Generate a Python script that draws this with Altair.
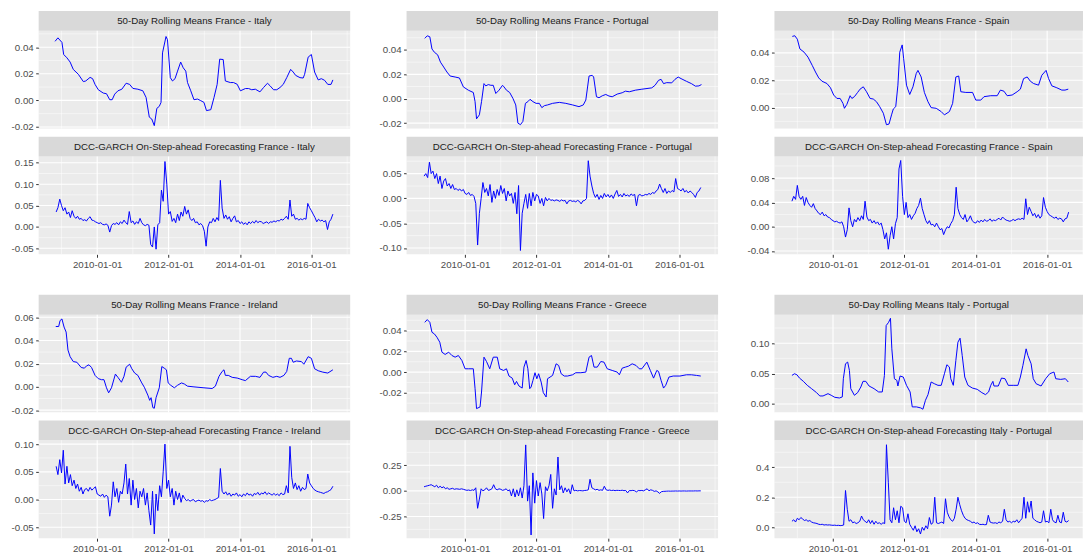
import altair as alt
import pandas as pd

# ------------------------------------------------------------------ data
# 50-day rolling means: (decimal year, value)
fr_it_roll = [(2008.82, 0.0444), (2008.90, 0.047), (2009.01, 0.0436), (2009.06, 0.0345), (2009.15, 0.032),
              (2009.24, 0.0288), (2009.33, 0.0233), (2009.47, 0.0196), (2009.61, 0.0141), (2009.68, 0.0146),
              (2009.80, 0.0173), (2009.87, 0.0163), (2009.94, 0.012), (2010.03, 0.008), (2010.17, 0.0055),
              (2010.26, 0.005), (2010.35, 0.0005), (2010.42, 0.0005), (2010.49, 0.0047), (2010.58, 0.0072),
              (2010.69, 0.0084), (2010.81, 0.0129), (2010.91, 0.012), (2011.00, 0.009), (2011.14, 0.0084),
              (2011.28, 0.0072), (2011.37, 0.0022), (2011.46, -0.0126), (2011.53, -0.014), (2011.60, -0.019),
              (2011.67, -0.006), (2011.74, -0.0045), (2011.79, -0.0015), (2011.83, 0.0357), (2011.93, 0.048),
              (2011.97, 0.0456), (2012.05, 0.0171), (2012.11, 0.0146), (2012.18, 0.0163), (2012.25, 0.022),
              (2012.34, 0.0288), (2012.41, 0.0245), (2012.48, 0.022), (2012.53, 0.0134), (2012.62, 0.0072),
              (2012.71, 0.0005), (2012.81, 0.001), (2012.90, -0.0002), (2012.99, -0.0015), (2013.06, -0.0077),
              (2013.18, -0.007), (2013.27, 0.0022), (2013.36, 0.012), (2013.43, 0.031), (2013.53, 0.0307),
              (2013.59, 0.0146), (2013.73, 0.0134), (2013.82, 0.0134), (2013.92, 0.0121), (2014.01, 0.0072),
              (2014.15, 0.0089), (2014.24, 0.0089), (2014.33, 0.008), (2014.43, 0.0084), (2014.56, 0.0064),
              (2014.66, 0.0097), (2014.77, 0.0129), (2014.84, 0.011), (2014.94, 0.008), (2015.03, 0.008),
              (2015.12, 0.0097), (2015.21, 0.012), (2015.31, 0.0171), (2015.42, 0.0233), (2015.49, 0.0213),
              (2015.56, 0.0188), (2015.68, 0.0171), (2015.77, 0.0168), (2015.81, 0.0196), (2015.91, 0.0325),
              (2016.00, 0.0345), (2016.09, 0.0213), (2016.19, 0.0154), (2016.28, 0.0163), (2016.37, 0.0151),
              (2016.46, 0.012), (2016.55, 0.012), (2016.60, 0.0154)]

fr_pt_roll = [(2008.87, 0.0495), (2008.94, 0.0516), (2009.01, 0.0508), (2009.07, 0.0408), (2009.14, 0.0381),
              (2009.23, 0.036), (2009.31, 0.030), (2009.40, 0.026), (2009.49, 0.0219), (2009.58, 0.0186),
              (2009.72, 0.0178), (2009.84, 0.017), (2009.95, 0.0097), (2010.09, 0.007), (2010.23, 0.0051),
              (2010.28, -0.0024), (2010.32, -0.0165), (2010.40, -0.0132), (2010.46, -0.0024), (2010.53, 0.0124),
              (2010.58, 0.0105), (2010.65, 0.0116), (2010.72, 0.011), (2010.79, 0.011), (2010.86, 0.0043),
              (2010.95, 0.007), (2011.05, 0.011), (2011.09, 0.0097), (2011.16, 0.007), (2011.25, 0.0051),
              (2011.34, 0.0003), (2011.42, -0.0051), (2011.48, -0.02), (2011.55, -0.0213), (2011.62, -0.0186),
              (2011.69, -0.0038), (2011.76, -0.0024), (2011.82, -0.0005), (2011.90, -0.0024), (2011.99, -0.0038),
              (2012.08, -0.0038), (2012.15, -0.0073), (2012.22, -0.0057), (2012.31, -0.0051), (2012.45, -0.0038),
              (2012.64, -0.003), (2012.82, -0.0038), (2013.01, -0.0051), (2013.19, -0.0065), (2013.31, -0.0051),
              (2013.38, -0.0011), (2013.47, 0.0186), (2013.56, 0.0192), (2013.60, 0.0178), (2013.68, 0.0016),
              (2013.75, 0.0008), (2013.84, 0.0024), (2013.94, 0.0035), (2014.03, 0.0022), (2014.12, 0.0016),
              (2014.26, 0.0038), (2014.40, 0.0049), (2014.49, 0.0062), (2014.60, 0.0057), (2014.77, 0.007),
              (2014.95, 0.0078), (2015.23, 0.0089), (2015.32, 0.011), (2015.42, 0.0151), (2015.49, 0.0159),
              (2015.56, 0.0124), (2015.65, 0.0132), (2015.79, 0.013), (2015.88, 0.0159), (2015.97, 0.0178),
              (2016.05, 0.0165), (2016.20, 0.0143), (2016.34, 0.0124), (2016.45, 0.0103), (2016.55, 0.0105),
              (2016.62, 0.0116)]

fr_es_roll = [(2008.86, 0.052), (2008.93, 0.0525), (2009.00, 0.050), (2009.07, 0.0429), (2009.19, 0.0405),
              (2009.30, 0.0369), (2009.42, 0.0308), (2009.51, 0.026), (2009.60, 0.0217), (2009.69, 0.0193),
              (2009.83, 0.0176), (2009.93, 0.0145), (2010.02, 0.0092), (2010.11, 0.0067), (2010.20, 0.0067),
              (2010.28, 0.0031), (2010.32, -0.0005), (2010.39, 0.0024), (2010.48, 0.0087), (2010.53, 0.0067),
              (2010.60, 0.008), (2010.69, 0.0111), (2010.76, 0.0135), (2010.85, 0.0152), (2010.94, 0.0116),
              (2011.04, 0.0067), (2011.13, 0.0063), (2011.22, 0.0043), (2011.31, 0.0007), (2011.41, -0.0041),
              (2011.50, -0.0125), (2011.57, -0.012), (2011.64, -0.0053), (2011.69, -0.001), (2011.76, 0.0007),
              (2011.82, 0.0164), (2011.87, 0.0405), (2011.94, 0.0458), (2011.98, 0.0357), (2012.06, 0.0164),
              (2012.15, 0.0096), (2012.24, 0.0152), (2012.33, 0.0248), (2012.38, 0.0272), (2012.47, 0.0224),
              (2012.56, 0.0111), (2012.66, 0.0043), (2012.75, 0.0), (2012.89, -0.0005), (2013.03, -0.0029),
              (2013.12, -0.0053), (2013.26, -0.0029), (2013.35, 0.0031), (2013.44, 0.0224), (2013.52, 0.0231),
              (2013.58, 0.0116), (2013.72, 0.0111), (2013.91, 0.0111), (2014.00, 0.0055), (2014.14, 0.0055),
              (2014.23, 0.008), (2014.42, 0.0087), (2014.60, 0.0087), (2014.69, 0.0128), (2014.79, 0.012),
              (2014.88, 0.0087), (2015.02, 0.0092), (2015.16, 0.0116), (2015.25, 0.0135), (2015.34, 0.0212),
              (2015.44, 0.0224), (2015.53, 0.0193), (2015.62, 0.0176), (2015.76, 0.0164), (2015.85, 0.0236),
              (2015.97, 0.0272), (2016.04, 0.0212), (2016.13, 0.0159), (2016.27, 0.0145), (2016.41, 0.0128),
              (2016.50, 0.0128), (2016.59, 0.0135)]

fr_ie_roll = [(2008.84, 0.052), (2008.92, 0.052), (2008.96, 0.0571), (2009.01, 0.0585), (2009.07, 0.0515),
              (2009.13, 0.0472), (2009.18, 0.0317), (2009.24, 0.026), (2009.33, 0.0218), (2009.43, 0.0212),
              (2009.55, 0.0167), (2009.64, 0.0161), (2009.70, 0.0181), (2009.77, 0.019), (2009.84, 0.0167),
              (2009.94, 0.0099), (2010.03, 0.0071), (2010.12, 0.0062), (2010.19, 0.0062), (2010.26, -0.0008),
              (2010.32, -0.0051), (2010.40, -0.0008), (2010.51, 0.011), (2010.58, 0.0082), (2010.68, 0.004),
              (2010.75, 0.0091), (2010.81, 0.017), (2010.91, 0.0195), (2010.97, 0.0156), (2011.05, 0.0119),
              (2011.14, 0.0099), (2011.25, 0.0034), (2011.32, -0.0003), (2011.42, -0.0071), (2011.47, -0.0116),
              (2011.51, -0.0093), (2011.56, -0.0178), (2011.60, -0.0184), (2011.65, -0.0093), (2011.74, -0.0008),
              (2011.81, 0.0175), (2011.88, 0.0161), (2011.94, 0.0147), (2011.99, 0.0034), (2012.06, 0.0014),
              (2012.16, -0.0008), (2012.25, 0.0014), (2012.36, 0.0034), (2012.44, 0.0025), (2012.53, 0.0006),
              (2012.71, 0.0), (2012.99, -0.0008), (2013.22, -0.0014), (2013.31, 0.0006), (2013.41, 0.0091),
              (2013.50, 0.0133), (2013.55, 0.0147), (2013.59, 0.0099), (2013.67, 0.0099), (2013.78, 0.0082),
              (2013.92, 0.0076), (2014.06, 0.0062), (2014.15, 0.0054), (2014.29, 0.0091), (2014.43, 0.0091),
              (2014.56, 0.0082), (2014.66, 0.0127), (2014.73, 0.0127), (2014.80, 0.0099), (2014.92, 0.0082),
              (2015.03, 0.0091), (2015.12, 0.0082), (2015.23, 0.0099), (2015.31, 0.0133), (2015.38, 0.0246),
              (2015.44, 0.0246), (2015.49, 0.0212), (2015.58, 0.0223), (2015.72, 0.0218), (2015.79, 0.0195),
              (2015.91, 0.026), (2016.00, 0.0246), (2016.09, 0.0156), (2016.19, 0.0139), (2016.32, 0.0127),
              (2016.46, 0.0119), (2016.60, 0.0147)]

fr_gr_roll = [(2008.87, 0.048), (2008.94, 0.0506), (2009.01, 0.048), (2009.07, 0.0384), (2009.14, 0.0368),
              (2009.21, 0.0336), (2009.29, 0.0288), (2009.35, 0.0192), (2009.44, 0.017), (2009.54, 0.0192),
              (2009.63, 0.016), (2009.72, 0.0144), (2009.81, 0.016), (2009.91, 0.0112), (2010.00, 0.0032),
              (2010.09, 0.0032), (2010.23, 0.0032), (2010.28, -0.016), (2010.32, -0.0352), (2010.42, -0.0336),
              (2010.46, -0.0192), (2010.53, 0.0144), (2010.60, 0.0102), (2010.69, 0.0032), (2010.79, 0.0144),
              (2010.90, 0.0144), (2010.97, 0.0032), (2011.08, 0.0016), (2011.16, 0.0032), (2011.23, -0.0038),
              (2011.32, -0.0058), (2011.39, -0.0122), (2011.44, -0.009), (2011.51, -0.0134), (2011.60, -0.0154),
              (2011.65, 0.0048), (2011.71, 0.0112), (2011.76, 0.0032), (2011.81, -0.016), (2011.85, -0.0144),
              (2011.90, -0.008), (2011.96, -0.0006), (2012.01, -0.0064), (2012.06, -0.0016), (2012.13, -0.0096),
              (2012.19, -0.0198), (2012.27, -0.024), (2012.31, -0.0064), (2012.38, -0.0048), (2012.45, -0.0032),
              (2012.55, 0.008), (2012.62, 0.0064), (2012.69, -0.0016), (2012.78, -0.0038), (2012.87, -0.0038),
              (2013.01, -0.0026), (2013.10, -0.0006), (2013.24, -0.0006), (2013.38, 0.0), (2013.47, 0.0144),
              (2013.54, 0.016), (2013.61, 0.0048), (2013.70, 0.0048), (2013.80, 0.0102), (2013.89, 0.0096),
              (2013.98, 0.0032), (2014.12, 0.0016), (2014.26, 0.0), (2014.32, -0.0026), (2014.40, 0.0038),
              (2014.49, 0.0048), (2014.58, 0.0058), (2014.68, 0.008), (2014.79, 0.0064), (2014.88, 0.0032),
              (2014.95, 0.0032), (2015.09, 0.0096), (2015.19, 0.0016), (2015.28, -0.0058), (2015.37, 0.0016),
              (2015.42, 0.0006), (2015.49, -0.008), (2015.56, -0.0154), (2015.62, -0.0128), (2015.71, -0.0048),
              (2015.83, -0.0038), (2016.02, -0.0038), (2016.20, -0.0026), (2016.34, -0.0026), (2016.48, -0.0032),
              (2016.60, -0.0038)]

it_pt_roll = [(2008.85, 0.047), (2008.92, 0.0497), (2008.99, 0.048), (2009.06, 0.0426), (2009.17, 0.0372),
              (2009.28, 0.0306), (2009.40, 0.0251), (2009.54, 0.0186), (2009.63, 0.0131), (2009.72, 0.0131),
              (2009.86, 0.0169), (2009.95, 0.0142), (2010.05, 0.0109), (2010.18, 0.0098), (2010.26, 0.0115),
              (2010.29, 0.0415), (2010.35, 0.0661), (2010.41, 0.0689), (2010.46, 0.0552), (2010.50, 0.0251),
              (2010.60, 0.0142), (2010.69, 0.0186), (2010.78, 0.0279), (2010.84, 0.0372), (2010.92, 0.0372),
              (2011.01, 0.0295), (2011.15, 0.0251), (2011.28, 0.0197), (2011.38, 0.0197), (2011.44, 0.047),
              (2011.49, 0.129), (2011.56, 0.1344), (2011.61, 0.141), (2011.65, 0.0907), (2011.72, 0.0415),
              (2011.79, 0.0388), (2011.82, 0.0295), (2011.88, 0.0459), (2011.97, 0.0443), (2012.06, 0.0306),
              (2012.16, 0.0197), (2012.22, -0.0049), (2012.34, -0.0049), (2012.46, -0.0066), (2012.52, -0.0087),
              (2012.59, 0.006), (2012.66, 0.0153), (2012.75, 0.0361), (2012.84, 0.0333), (2012.94, 0.0306),
              (2013.03, 0.0306), (2013.12, 0.0497), (2013.19, 0.0645), (2013.26, 0.0607), (2013.30, 0.0415),
              (2013.37, 0.0306), (2013.44, 0.0716), (2013.50, 0.1016), (2013.56, 0.1082), (2013.62, 0.0798),
              (2013.69, 0.0443), (2013.78, 0.0306), (2013.90, 0.0262), (2014.04, 0.024), (2014.17, 0.0186),
              (2014.27, 0.0153), (2014.36, 0.0197), (2014.42, 0.0306), (2014.48, 0.0372), (2014.51, 0.0295),
              (2014.63, 0.0295), (2014.72, 0.0426), (2014.82, 0.0415), (2014.91, 0.0306), (2015.05, 0.0306),
              (2015.18, 0.0306), (2015.25, 0.0443), (2015.32, 0.0634), (2015.41, 0.0907), (2015.46, 0.0798),
              (2015.55, 0.0661), (2015.61, 0.0415), (2015.69, 0.0333), (2015.83, 0.0295), (2015.96, 0.0415),
              (2016.07, 0.0497), (2016.19, 0.0525), (2016.24, 0.0415), (2016.38, 0.0404), (2016.51, 0.0415),
              (2016.59, 0.0361)]

# DCC-GARCH one-step-ahead forecasts, sampled every 0.05 year from 2008.85
dcc_start = 2008.85
dcc_step = 0.05

fr_it_dcc = [0.035, 0.045, 0.065, 0.05, 0.038, 0.045, 0.03, 0.035, 0.022, 0.038,
             0.025, 0.02, 0.025, 0.018, 0.02, 0.015, 0.017, 0.014, 0.02, 0.024,
             0.016, 0.015, 0.012, 0.01, 0.008, 0.01, 0.006, 0.005, 0.007, 0.004,
             -0.012, 0.003, 0.008, 0.006, 0.01, 0.005, 0.012, 0.008, 0.016, 0.01,
             0.006, 0.036, 0.01, 0.014, 0.006, 0.012, 0.008, 0.02, 0.01, 0.005,
             0.003, 0.006, 0.004, -0.041, -0.047, 0.0, -0.052, 0.005, 0.01, 0.086,
             0.06, 0.153, 0.1, 0.03, 0.036, 0.013, 0.02, 0.01, 0.03, 0.015,
             0.035, 0.025, 0.048, 0.03, 0.04, 0.02, 0.015, 0.02, 0.01, 0.012,
             0.005, 0.008, 0.003, -0.01, -0.045, 0.0, 0.012, 0.01, 0.02, 0.012,
             0.022, 0.015, 0.109, 0.044, 0.02, 0.028, 0.018, 0.024, 0.012, 0.02,
             0.026, 0.012, 0.015, 0.008, 0.012, 0.006, 0.01, 0.005, 0.012, 0.008,
             0.013, 0.009, 0.015, 0.01, 0.013, 0.012, 0.008, 0.01, 0.012, 0.008,
             0.012, 0.011, 0.014, 0.012, 0.015, 0.014, 0.018, 0.016, 0.02, 0.025,
             0.018, 0.063, 0.025, 0.03, 0.018, 0.02, 0.016, 0.019, 0.017, 0.02,
             0.018, 0.055, 0.045, 0.038, 0.03, 0.022, 0.012, 0.018, 0.014, 0.016,
             0.012, 0.015, -0.006, 0.012, 0.018, 0.03]

fr_pt_dcc = [0.045, 0.05, 0.042, 0.073, 0.05, 0.055, 0.04, 0.05, 0.03, 0.045,
             0.02, 0.035, 0.04, 0.025, 0.03, 0.02, 0.028, 0.018, 0.02, 0.016,
             0.019, 0.015, 0.018, 0.01, 0.008, 0.012, 0.006, 0.008, 0.004, -0.01,
             -0.094, -0.03, 0.0, 0.032, 0.012, 0.02, 0.005, 0.028, -0.008, 0.015,
             0.0, 0.018, 0.006, 0.026, 0.01, 0.02, -0.005, 0.015, 0.005, 0.01,
             -0.01, 0.012, -0.031, 0.026, -0.105, -0.03, -0.01, 0.008, -0.02, 0.01,
             -0.015, 0.012, -0.005, 0.008, 0.005, -0.01, 0.0, -0.015, 0.002, -0.005,
             0.0, -0.004, -0.003, -0.005, -0.003, -0.004, -0.006, -0.003, -0.005, -0.004,
             -0.011, -0.005, -0.004, -0.006, -0.005, -0.007, -0.004, -0.006, -0.011, -0.005,
             -0.004, 0.0, 0.076, 0.045, 0.025, 0.01, 0.002, 0.008, -0.002, 0.006,
             0.0, 0.01, 0.003, 0.008, 0.002, 0.007, 0.0, 0.009, 0.016, 0.004,
             0.008, 0.003, 0.01, 0.005, 0.007, 0.004, 0.009, 0.006, 0.008, -0.015,
             0.006, 0.008, 0.005, 0.006, 0.008, 0.007, 0.01, 0.008, 0.012, 0.01,
             0.015, 0.018, 0.029, 0.02, 0.012, 0.02, 0.01, 0.015, 0.012, 0.016,
             0.013, 0.04, 0.02, 0.018, 0.015, 0.02, 0.013, 0.016, 0.011, 0.015,
             0.012, 0.008, 0.002, 0.012, 0.015, 0.022]

fr_es_dcc = [0.042, 0.05, 0.045, 0.068, 0.05, 0.045, 0.05, 0.035, 0.048, 0.04,
             0.035, 0.032, 0.038, 0.03, 0.026, 0.022, 0.02, 0.024, 0.018, 0.02,
             0.016, 0.015, 0.012, 0.01, 0.008, 0.009, 0.007, 0.006, 0.008, 0.0,
             -0.017, -0.005, 0.031, 0.01, 0.0, 0.012, 0.008, 0.015, 0.01, 0.018,
             0.012, 0.042, 0.016, 0.01, 0.012, 0.006, 0.01, 0.005, 0.008, 0.003,
             0.006, -0.005, -0.02, -0.01, -0.037, -0.015, 0.0, -0.02, 0.005, 0.015,
             0.095, 0.109, 0.05, 0.02, 0.04, 0.015, 0.02, 0.012, 0.018, 0.022,
             0.03, 0.035, 0.047, 0.03, 0.02, 0.01, 0.005, 0.01, 0.003, 0.004,
             0.0, 0.006, 0.0, -0.005, -0.003, -0.013, -0.005, 0.0, -0.002, 0.005,
             0.01, 0.02, 0.065, 0.03, 0.02, 0.015, 0.012, 0.02, 0.008, 0.012,
             0.018, 0.01, 0.007, 0.006, 0.01, 0.007, 0.011, 0.008, 0.012, 0.009,
             0.01, 0.013, 0.009, 0.011, 0.01, 0.012, 0.014, 0.011, 0.016, 0.013,
             0.011, 0.01, 0.009, 0.01, 0.012, 0.01, 0.012, 0.013, 0.012, 0.014,
             0.012, 0.046, 0.02, 0.032, 0.025, 0.018, 0.022, 0.015, 0.02, 0.014,
             0.018, 0.048, 0.032, 0.025, 0.02, 0.018, 0.016, 0.014, 0.016, 0.012,
             0.014, 0.013, 0.008, 0.013, 0.014, 0.024]

fr_ie_dcc = [0.06, 0.045, 0.072, 0.048, 0.089, 0.028, 0.06, 0.03, 0.045, 0.025,
             0.035, 0.02, 0.028, 0.015, 0.022, 0.01, 0.018, 0.02, 0.015, 0.022,
             0.017, 0.02, 0.023, 0.01, 0.008, 0.006, 0.01, 0.004, 0.008, 0.005,
             -0.03, -0.01, 0.032, 0.005, 0.02, -0.005, 0.015, 0.01, 0.03, 0.064,
             0.01, 0.038, -0.01, 0.035, 0.0, 0.02, -0.015, 0.015, 0.005, 0.02,
             -0.01, 0.012, -0.02, -0.046, 0.015, -0.062, 0.01, -0.02, 0.025, 0.005,
             0.05, 0.1, 0.02, 0.035, 0.005, 0.02, -0.01, 0.015, 0.0, 0.012,
             -0.005, 0.008, 0.002, -0.002, 0.0, -0.003, -0.001, 0.0, -0.004, -0.002,
             -0.001, -0.003, -0.002, -0.005, -0.002, -0.003, 0.0, -0.002, -0.001, 0.0,
             0.002, 0.004, 0.056, 0.015, 0.01, 0.014, 0.008, 0.012, 0.006, 0.01,
             0.008, 0.012, 0.006, 0.009, 0.005, 0.01, 0.007, 0.012, 0.008, 0.01,
             0.006, 0.011, 0.009, 0.013, 0.008, 0.012, 0.01, 0.014, 0.009, 0.012,
             0.01, 0.008, 0.011, 0.008, 0.01, 0.007, 0.012, 0.009, 0.01, 0.025,
             0.012, 0.096, 0.04, 0.02, 0.03, 0.018, 0.025, 0.015, 0.022, 0.018,
             0.02, 0.046, 0.03, 0.025, 0.02, 0.017, 0.015, 0.014, 0.013, 0.012,
             0.011, 0.013, 0.014, 0.016, 0.018, 0.024]

fr_gr_dcc = [0.04, 0.045, 0.05, 0.055, 0.06, 0.05, 0.04, 0.055, 0.03, 0.045,
             0.03, 0.04, 0.02, 0.03, 0.015, 0.02, 0.025, 0.015, 0.02, 0.018,
             0.015, 0.02, 0.015, 0.01, 0.005, 0.008, 0.003, 0.01, 0.005, 0.03,
             -0.17, -0.08, 0.02, 0.0, 0.01, 0.03, 0.005, 0.01, 0.02, 0.06,
             0.02, 0.01, 0.02, 0.015, 0.005, 0.01, 0.02, 0.0, 0.01, -0.05,
             0.02, -0.06, 0.01, -0.05, 0.03, -0.07, 0.05, 0.448, -0.1, 0.05,
             -0.43, 0.175, -0.12, 0.1, -0.05, 0.08, -0.03, -0.27, 0.04, 0.0,
             0.05, 0.16, -0.17, 0.02, -0.04, 0.33, 0.01, 0.05, -0.02, 0.03,
             -0.01, 0.02, -0.03, 0.06, 0.0, 0.005, 0.0, 0.003, 0.002, 0.0,
             0.004, 0.005, 0.01, 0.113, 0.03, 0.02, 0.01, 0.015, 0.005, 0.01,
             0.005, 0.045, 0.01, 0.005, 0.008, 0.003, 0.006, 0.002, 0.005, 0.004,
             0.003, 0.006, 0.002, 0.004, -0.02, 0.003, 0.002, 0.005, 0.001, -0.01,
             0.003, 0.002, 0.004, 0.0, 0.01, 0.02, 0.0, 0.01, 0.005, -0.005,
             0.0, -0.01, -0.025, -0.008, -0.005, -0.004, -0.003, -0.002, -0.003, -0.002,
             -0.002, -0.001, -0.002, -0.001, -0.002, -0.001, -0.001, -0.002, -0.001, -0.001,
             -0.001, -0.001, 0.0, -0.001, 0.0, 0.0]

it_pt_dcc = [0.04, 0.05, 0.035, 0.06, 0.05, 0.065, 0.055, 0.045, 0.05, 0.04,
             0.045, 0.035, 0.03, 0.028, 0.025, 0.02, 0.018, 0.02, 0.015, 0.017,
             0.015, 0.016, 0.014, 0.013, 0.014, 0.012, 0.013, 0.011, 0.012, 0.015,
             0.245, 0.12, 0.04, 0.05, 0.03, 0.035, 0.025, 0.03, 0.04, 0.075,
             0.05, 0.04, 0.03, 0.05, 0.025, 0.045, 0.02, 0.04, 0.025, 0.03,
             0.02, 0.03, 0.025, 0.55, 0.3, 0.05, 0.03, 0.13, 0.05, 0.11,
             0.03, 0.14, 0.13, 0.04, 0.03, 0.09, 0.02, 0.0, -0.02, 0.01,
             -0.03, -0.01, -0.045, 0.0, -0.02, 0.01, -0.01, 0.065, 0.02, 0.03,
             0.2, 0.03, 0.025, 0.03, 0.035, 0.025, 0.19, 0.1, 0.07, 0.05,
             0.04, 0.06, 0.12, 0.2, 0.15, 0.11, 0.08, 0.06, 0.05, 0.045,
             0.04, 0.03, 0.035, 0.025, 0.03, 0.02, 0.018, 0.02, 0.017, 0.018,
             0.08, 0.035, 0.03, 0.028, 0.03, 0.025, 0.035, 0.03, 0.04, 0.12,
             0.05, 0.035, 0.04, 0.03, 0.04, 0.035, 0.05, 0.03, 0.045, 0.06,
             0.2, 0.06, 0.17, 0.1, 0.175, 0.06, 0.05, 0.04, 0.035, 0.03,
             0.035, 0.11, 0.035, 0.04, 0.03, 0.12, 0.05, 0.035, 0.03, 0.08,
             0.035, 0.03, 0.1, 0.04, 0.035, 0.045]

pairs = ["France - Italy", "France - Portugal", "France - Spain",
         "France - Ireland", "France - Greece", "Italy - Portugal"]
roll_series = [fr_it_roll, fr_pt_roll, fr_es_roll, fr_ie_roll, fr_gr_roll, it_pt_roll]
dcc_series = [fr_it_dcc, fr_pt_dcc, fr_es_dcc, fr_ie_dcc, fr_gr_dcc, it_pt_dcc]

# y-axis ranges and tick labels
roll_ydom = [(-0.0213, 0.0523), (-0.0246, 0.0557), (-0.0154, 0.0561),
             (-0.0221, 0.0622), (-0.039, 0.0554), (-0.0142, 0.147)]
roll_ticks = [[-0.02, 0.0, 0.02, 0.04], [-0.02, 0.0, 0.02, 0.04], [0.0, 0.02, 0.04],
              [-0.02, 0.0, 0.02, 0.04, 0.06], [-0.02, 0.0, 0.02, 0.04], [0.0, 0.05, 0.10]]
dcc_ydom = [(-0.064, 0.165), (-0.1127, 0.0847), (-0.0454, 0.1157),
            (-0.0696, 0.107), (-0.461, 0.4935), (-0.0725, 0.58)]
dcc_ticks = [[-0.05, 0.0, 0.05, 0.10, 0.15], [-0.10, -0.05, 0.0, 0.05], [-0.04, 0.0, 0.04, 0.08],
             [-0.05, 0.0, 0.05, 0.10], [-0.25, 0.0, 0.25], [0.0, 0.2, 0.4]]
dcc_fmt = [".2f", ".2f", ".2f", ".2f", ".2f", ".1f"]
x_tick_years = [2010, 2012, 2014, 2016]

# ------------------------------------------------------------------ helpers
PANEL_BG = "#EBEBEB"
STRIP_BG = "#D9D9D9"
FONT = "Liberation Sans"
FS = 9.8
HS = 20        # strip height
HP = 99        # panel height
PAD = 7        # fixed space kept under the upper panel of each pair
YEXT = 31
PX_PER_YEAR = 36.1
X_START = 2008.36
WIDTHS = [315, 315, 312]


def dec2date(y):
    yr = int(y)
    frac = y - yr
    ndays = 366 if yr % 4 == 0 else 365
    return pd.Timestamp(yr, 1, 1) + pd.Timedelta(days=round(frac * ndays))


def to_dt(ts):
    return alt.DateTime(year=ts.year, month=ts.month, date=ts.day)


def roll_df(p):
    return pd.DataFrame({"date": [dec2date(t) for t, _ in p], "value": [v for _, v in p]})


def dcc_df(vals):
    return pd.DataFrame({"date": [dec2date(dcc_start + dcc_step * i) for i in range(len(vals))],
                         "value": vals})


def panel(title, df, ydom, ymaj, fmt, w, show_x):
    x0 = dec2date(X_START)
    x1 = dec2date(X_START + w / PX_PER_YEAR)
    xscale = alt.Scale(domain=[to_dt(x0), to_dt(x1)])
    yscale = alt.Scale(domain=list(ydom), nice=False, zero=False)
    step = ymaj[1] - ymaj[0]
    minors = [m - step / 2 for m in ymaj] + [ymaj[-1] + step / 2]
    minors = [m for m in minors if ydom[0] <= m <= ydom[1]]
    years_major = [pd.Timestamp(y, 1, 1) for y in range(2008, 2018) if y % 2 == 0]
    years_minor = [pd.Timestamp(y, 1, 1) for y in range(2008, 2018) if y % 2 == 1]
    years_major = [d for d in years_major if x0 <= d <= x1]
    years_minor = [d for d in years_minor if x0 <= d <= x1]

    yaxis = alt.Axis(values=ymaj, grid=False, domain=False, ticks=True, tickColor="#333333",
                     tickSize=3, tickWidth=1, labelColor="#4D4D4D", labelFont=FONT,
                     labelFontSize=FS, labelPadding=2.5, minExtent=YEXT, maxExtent=YEXT,
                     labelExpr="(datum.value < 0 ? '-' : '') + format(abs(datum.value), '%s')" % fmt,
                     title=None)
    if show_x:
        xaxis = alt.Axis(values=[alt.DateTime(year=y, month=1, date=1) for y in x_tick_years],
                         format="%Y-%m-%d", grid=False, domain=False, tickColor="#333333",
                         tickSize=3, tickWidth=1, labelColor="#4D4D4D", labelFont=FONT,
                         labelFontSize=FS, labelPadding=2.5, labelFlush=False,
                         labelOverlap=False, title=None)
    else:
        xaxis = None

    xg = alt.X("date:T", scale=xscale, axis=xaxis, title=None)
    yg = alt.Y("value:Q", scale=yscale, axis=yaxis, title=None)

    tdf = alt.Chart(pd.DataFrame({"t": [title]}))
    strip_rect = tdf.mark_rect(color=STRIP_BG, strokeWidth=0).encode(
        x=alt.value(0), x2=alt.value(w), y=alt.value(-HS), y2=alt.value(0))
    strip_text = tdf.mark_text(font=FONT, fontSize=FS, color="#1A1A1A", align="center",
                               baseline="middle").encode(
        x=alt.value(w / 2), y=alt.value(-HS / 2 + 0.5), text="t:N")
    layers = [strip_rect, strip_text]
    if not show_x:
        spacer = tdf.mark_rect(color="white", strokeWidth=0).encode(
            x=alt.value(0), x2=alt.value(w), y=alt.value(HP), y2=alt.value(HP + PAD))
        layers.append(spacer)

    minor_h = alt.Chart(pd.DataFrame({"value": minors})).mark_rule(
        color="white", strokeWidth=0.5).encode(y=yg)
    major_h = alt.Chart(pd.DataFrame({"value": ymaj})).mark_rule(
        color="white", strokeWidth=1.1).encode(y=yg)
    minor_v = alt.Chart(pd.DataFrame({"date": years_minor})).mark_rule(
        color="white", strokeWidth=0.5).encode(x=xg)
    major_v = alt.Chart(pd.DataFrame({"date": years_major})).mark_rule(
        color="white", strokeWidth=1.1).encode(x=xg)
    line = alt.Chart(df).mark_line(color="#0000FF", strokeWidth=1.0, clip=True).encode(
        x=xg, y=yg)
    layers += [minor_h, minor_v, major_h, major_v, line]
    return alt.layer(*layers).properties(width=w, height=HP)


def group(k, w):
    top = panel("50-Day Rolling Means " + pairs[k], roll_df(roll_series[k]),
                roll_ydom[k], roll_ticks[k], ".2f", w, False)
    bottom = panel("DCC-GARCH On-Step-ahead Forecasting " + pairs[k], dcc_df(dcc_series[k]),
                   dcc_ydom[k], dcc_ticks[k], dcc_fmt[k], w, True)
    return alt.vconcat(top, bottom, spacing=1)


row1 = alt.hconcat(group(0, WIDTHS[0]), group(1, WIDTHS[1]), group(2, WIDTHS[2]), spacing=25)
row2 = alt.hconcat(group(3, WIDTHS[0]), group(4, WIDTHS[1]), group(5, WIDTHS[2]), spacing=25)

chart = alt.vconcat(row1, row2, spacing=25).properties(
    padding=0, background="white"
).configure_view(stroke=None, fill=PANEL_BG)

chart.save("out.html", embed_options={"renderer": "svg", "actions": False})
